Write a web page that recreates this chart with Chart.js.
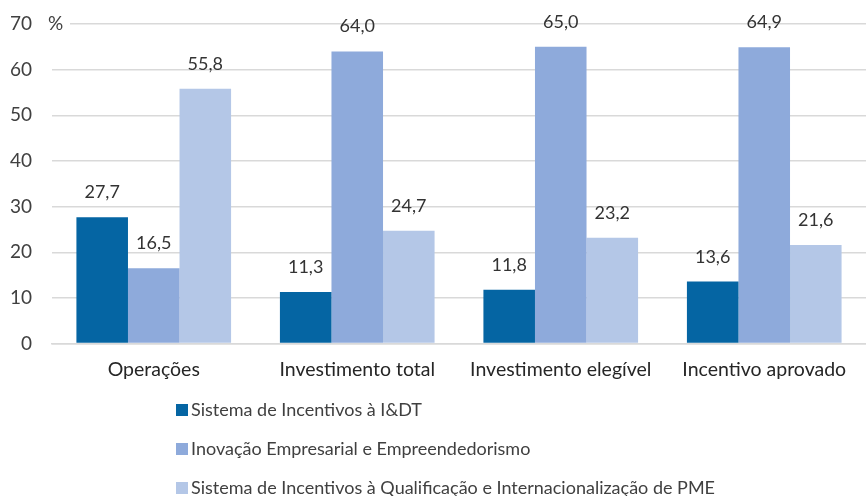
<!DOCTYPE html>
<html>
<head>
<meta charset="utf-8">
<script src="https://cdn.jsdelivr.net/npm/chart.js@4.4.1/dist/chart.umd.min.js"></script>
<style>
  html, body { margin: 0; padding: 0; background: #fff; }
  #wrap { width: 866px; height: 496px; }
</style>
</head>
<body>
<div id="wrap"><canvas id="chart" width="866" height="496"></canvas></div>
<script>
const categories = ['Operações', 'Investimento total', 'Investimento elegível', 'Incentivo aprovado'];
const seriesNames = [
    'Sistema de Incentivos à I&DT',
    'Inovação Empresarial e Empreendedorismo',
    'Sistema de Incentivos à Qualificação e Internacionalização de PME'
];
const idtValues = [27.7, 11.3, 11.8, 13.6];
const inovValues = [16.5, 64.0, 65.0, 64.9];
const qualValues = [55.8, 24.7, 23.2, 21.6];
const colors = ['#0565A3', '#8EAADB', '#B4C7E7'];

const FONT = 'Lato, "Open Sans", sans-serif';

// value labels above each bar, with comma decimals
const valueLabels = {
    id: 'valueLabels',
    afterDatasetsDraw(chart) {
        const ctx = chart.ctx;
        ctx.save();
        ctx.font = '18px ' + FONT;
        ctx.fillStyle = '#333333';
        ctx.textAlign = 'center';
        ctx.textBaseline = 'alphabetic';
        chart.data.datasets.forEach((ds, i) => {
            chart.getDatasetMeta(i).data.forEach((bar, j) => {
                const txt = ds.data[j].toFixed(1).replace('.', ',');
                ctx.fillText(txt, bar.x, bar.y - 19);
            });
        });
        ctx.restore();
    }
};

// "%" unit next to the top tick and a vertical legend under the chart
const extras = {
    id: 'extras',
    afterDraw(chart) {
        const ctx = chart.ctx;
        const y = chart.scales.y;
        const top = y.getPixelForValue(70);
        ctx.save();
        ctx.fillStyle = '#fff';
        ctx.fillRect(44, top - 10, 26, 20);
        ctx.font = '19px ' + FONT;
        ctx.fillStyle = '#404040';
        ctx.textBaseline = 'middle';
        ctx.textAlign = 'left';
        ctx.fillText('%', 48, top);

        ctx.font = '18px ' + FONT;
        chart.data.datasets.forEach((ds, i) => {
            const ly = 410 + i * 39;
            ctx.fillStyle = ds.backgroundColor;
            ctx.fillRect(176, ly - 6, 12, 12);
            ctx.fillStyle = '#404040';
            ctx.fillText(ds.label, 191, ly);
        });
        ctx.restore();
    }
};

new Chart(document.getElementById('chart'), {
    type: 'bar',
    data: {
        labels: categories,
        datasets: [
            { label: seriesNames[0], data: idtValues, backgroundColor: colors[0] },
            { label: seriesNames[1], data: inovValues, backgroundColor: colors[1] },
            { label: seriesNames[2], data: qualValues, backgroundColor: colors[2] }
        ]
    },
    options: {
        responsive: false,
        animation: false,
        layout: { padding: { top: 24, right: 0, left: 0, bottom: 109 } },
        datasets: { bar: { barPercentage: 1, categoryPercentage: 0.76 } },
        plugins: {
            legend: { display: false },
            tooltip: { enabled: false }
        },
        scales: {
            y: {
                min: 0,
                max: 70,
                ticks: { stepSize: 10, color: '#404040', font: { size: 19, family: FONT }, padding: 20 },
                grid: { color: '#D9D9D9', lineWidth: 1.5, drawTicks: false },
                border: { display: false },
                afterFit(scale) {
                    scale.width = 52;
                    scale.paddingTop = 0;
                    scale.paddingBottom = 0;
                }
            },
            x: {
                ticks: { color: '#262626', font: { size: 19.5, family: FONT }, padding: 6 },
                grid: { display: false },
                border: { color: '#D9D9D9', width: 1.5 }
            }
        }
    },
    plugins: [valueLabels, extras]
});
</script>
</body>
</html>
